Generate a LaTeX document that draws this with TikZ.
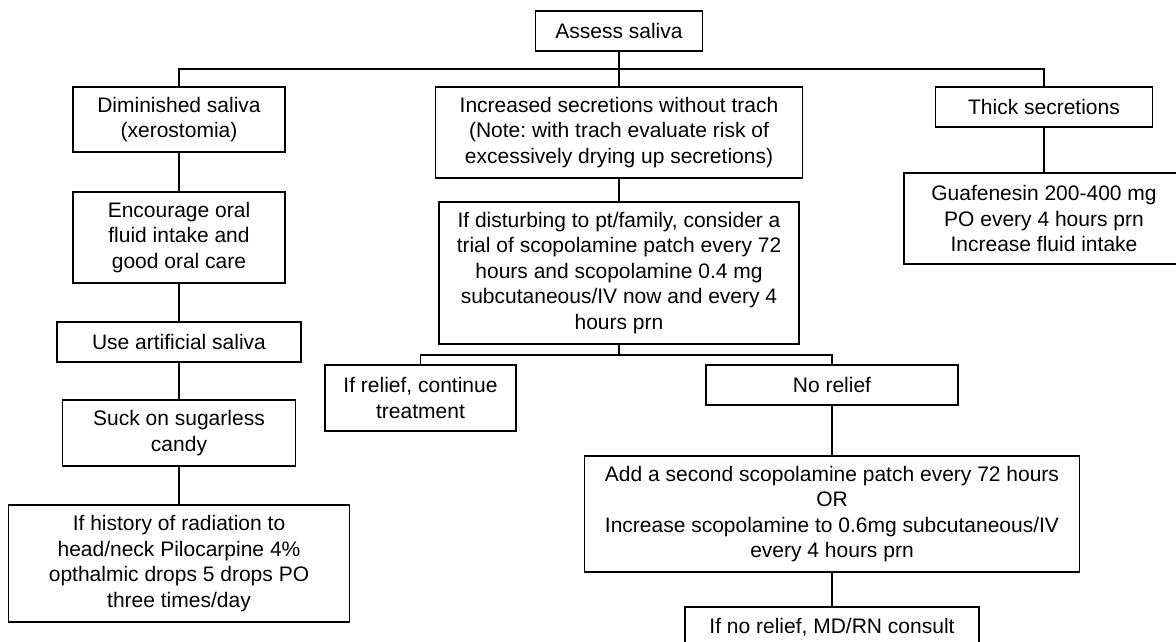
\documentclass[tikz,border=0pt]{standalone}
\usepackage{fontspec}
\setmainfont{Liberation Sans}
\frenchspacing
\begin{document}
\begin{tikzpicture}[x=1pt,y=-1pt,
  box/.style={draw=black, line width=1.2pt, fill=white, rectangle, align=center,
    inner sep=0pt, font=\fontsize{21}{25.5}\selectfont},
  link/.style={draw=black, line width=1.2pt}]
\useasboundingbox (0,0) rectangle (1176,642);

% top level
\node[box, minimum width=167, minimum height=40] (assess) at (619,31) {Assess saliva};

\node[box, minimum width=212, minimum height=65] (dim) at (179,119.5)
  {Diminished saliva\\(xerostomia)};
\node[box, minimum width=367, minimum height=91] (inc) at (619,132.5)
  {Increased secretions without trach\\(Note: with trach evaluate risk of\\excessively drying up secretions)};
\node[box, minimum width=217, minimum height=40] (thick) at (1044,107) {Thick secretions};

% left branch
\node[box, minimum width=212, minimum height=91] (enc) at (179,237.5)
  {Encourage oral\\fluid intake and\\good oral care};
\node[box, minimum width=244, minimum height=40] (art) at (179,342) {Use artificial saliva};
\node[box, minimum width=233, minimum height=66] (suck) at (179,433)
  {Suck on sugarless\\candy};
\node[box, minimum width=341, minimum height=117] (hist) at (179,563.5)
  {If history of radiation to\\head/neck Pilocarpine 4\%\\opthalmic drops 5 drops PO\\three times/day};

% middle branch
\node[box, minimum width=360, minimum height=142] (dist) at (619,273)
  {If disturbing to pt/family, consider a\\trial of scopolamine patch every 72\\hours and scopolamine 0.4 mg\\subcutaneous/IV now and every 4\\hours prn};
\node[box, minimum width=191, minimum height=66] (relief) at (420.5,398)
  {If relief, continue\\treatment};
\node[box, minimum width=252, minimum height=40] (norel) at (832,385) {No relief};
\node[box, minimum width=495, minimum height=116] (add) at (832,514)
  {Add a second scopolamine patch every 72 hours\\OR\\Increase scopolamine to 0.6mg subcutaneous/IV\\every 4 hours prn};
\node[box, minimum width=294, minimum height=40] (md) at (832,627)
  {If no relief, MD/RN consult};

% right branch
\node[box, minimum width=280, minimum height=91] (guaf) at (1044,218.5)
  {Guafenesin 200-400 mg\\PO every 4 hours prn\\Increase fluid intake};

% junction points of the branching lines
\coordinate (bus1) at (619,69);
\coordinate (bus2) at (619,355);

% connectors
\draw[link] (assess.south) -- (inc.north);
\draw[link] (dim.north) |- (bus1) -| (thick.north);
\draw[link] (dim.south) -- (enc.north);
\draw[link] (enc.south) -- (art.north);
\draw[link] (art.south) -- (suck.north);
\draw[link] (suck.south) -- (hist.north);
\draw[link] (thick.south) -- (guaf.north);
\draw[link] (inc.south) -- (dist.north);
\draw[link] (dist.south) -- (bus2);
\draw[link] (relief.north) |- (bus2) -| (norel.north);
\draw[link] (norel.south) -- (add.north);
\draw[link] (add.south) -- (md.north);
\end{tikzpicture}
\end{document}
